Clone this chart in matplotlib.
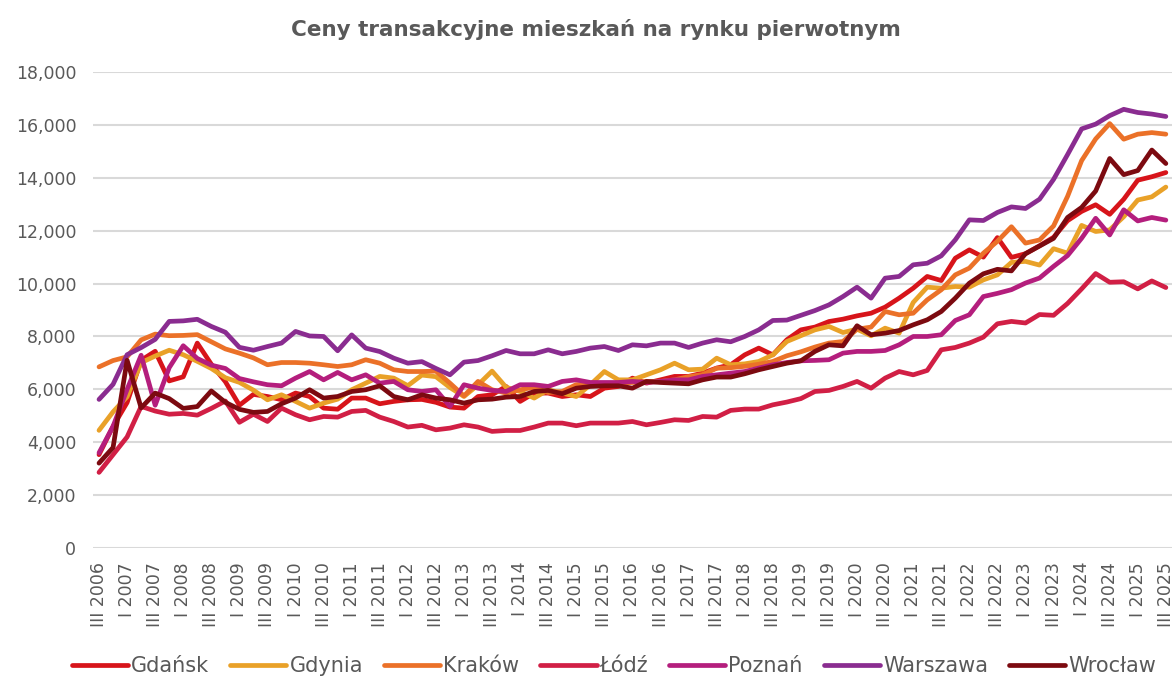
import matplotlib
matplotlib.use("Agg")
import matplotlib.pyplot as plt

# quarterly data III 2006 .. III 2025 (77 quarters)
tick_labels = ["III 2006", "I 2007", "III 2007", "I 2008", "III 2008", "I 2009", "III 2009",
               "I 2010", "III 2010", "I 2011", "III 2011", "I 2012", "III 2012", "I 2013",
               "III 2013", "I 2014", "III 2014", "I 2015", "III 2015", "I 2016", "III 2016",
               "I 2017", "III 2017", "I 2018", "III 2018", "I 2019", "III 2019", "I 2020",
               "III 2020", "I 2021", "III 2021", "I 2022", "III 2022", "I 2023", "III 2023",
               "I 2024", "III 2024", "I 2025", "III 2025"]

gdansk = [3530, 4600, 5500, 7100, 7440, 6320, 6475, 7750, 6950, 6290, 5400, 5810, 5730, 5610,
          5860, 5730, 5290, 5250, 5670, 5670, 5455, 5545, 5605, 5620, 5510, 5330, 5290, 5730,
          5795, 6110, 5545, 5860, 5860, 5730, 5795, 5730, 6045, 6110, 6425, 6235, 6360, 6490,
          6490, 6615, 6805, 6930, 7305, 7560, 7305, 7875, 8250, 8355, 8565, 8655, 8780, 8880,
          9110, 9450, 9825, 10270, 10115, 10960, 11275, 11000, 11740, 10990, 11130, 11430,
          11750, 12380, 12730, 12980, 12620, 13190, 13910, 14040, 14200]
gdynia = [4450, 5150, 5720, 7010, 7260, 7480, 7310, 7060, 6790, 6440, 6265, 5970, 5605, 5795,
          5545, 5290, 5480, 5630, 5985, 6235, 6490, 6425, 6140, 6540, 6480, 6070, 5730, 6170,
          6690, 6080, 5920, 5670, 5985, 5860, 5730, 6175, 6675, 6360, 6360, 6550, 6740, 6990,
          6740, 6765, 7180, 6930, 6965, 7055, 7305, 7810, 8030, 8250, 8380, 8150, 8275, 8025,
          8315, 8125, 9285, 9865, 9825, 9890, 9865, 10140, 10330, 10800, 10840, 10700, 11320,
          11150, 12200, 11970, 12030, 12530, 13160, 13280, 13650]
krakow = [6850, 7090, 7230, 7870, 8090, 8030, 8040, 8070, 7800, 7530, 7370, 7190, 6930, 7015,
          7015, 6990, 6930, 6865, 6930, 7120, 6990, 6740, 6675, 6675, 6690, 6235, 5750, 6300,
          5985, 5860, 5985, 6080, 5880, 5920, 6180, 6180, 6200, 6240, 6260, 6300, 6300, 6360,
          6480, 6560, 6800, 6820, 6870, 6950, 7055, 7270, 7420, 7600, 7750, 7810, 8275, 8355,
          8945, 8820, 8880, 9385, 9765, 10330, 10585, 11150, 11600, 12150, 11530, 11650, 12180,
          13300, 14650, 15470, 16050, 15460, 15650, 15710, 15650]
lodz = [2860, 3530, 4200, 5355, 5180, 5060, 5090, 5025, 5280, 5560, 4755, 5060, 4785, 5290,
        5040, 4850, 4975, 4950, 5165, 5205, 4950, 4785, 4575, 4640, 4470, 4535, 4660, 4575,
        4410, 4445, 4445, 4575, 4725, 4725, 4625, 4725, 4725, 4725, 4785, 4660, 4750, 4850,
        4825, 4975, 4950, 5205, 5255, 5255, 5415, 5520, 5650, 5920, 5960, 6110, 6300, 6045,
        6425, 6675, 6550, 6715, 7495, 7585, 7750, 7975, 8480, 8570, 8510, 8830, 8800, 9250,
        9800, 10380, 10050, 10070, 9800, 10100, 9850]
poznan = [3600, 4600, 6000, 7290, 5400, 6820, 7650, 7170, 6915, 6790, 6410, 6285, 6175, 6135,
          6425, 6675, 6360, 6640, 6360, 6550, 6235, 6300, 5985, 5920, 5985, 5355, 6175, 6045,
          5960, 5920, 6175, 6175, 6110, 6300, 6360, 6260, 6260, 6260, 6300, 6260, 6300, 6360,
          6360, 6490, 6550, 6615, 6675, 6805, 6930, 7015, 7080, 7095, 7120, 7370, 7435, 7435,
          7470, 7685, 8000, 8000, 8065, 8605, 8820, 9510, 9630, 9770, 10020, 10210, 10650,
          11060, 11715, 12470, 11840, 12790, 12370, 12500, 12400]
warszawa = [5620, 6190, 7310, 7580, 7890, 8570, 8590, 8650, 8380, 8160, 7590, 7480, 7620, 7750,
            8190, 8020, 8000, 7460, 8060, 7560, 7430, 7180, 6990, 7050, 6790, 6550, 7030, 7090,
            7270, 7470, 7345, 7345, 7495, 7345, 7435, 7560, 7620, 7470, 7685, 7645, 7750, 7750,
            7585, 7750, 7875, 7800, 8000, 8250, 8605, 8620, 8800, 8980, 9195, 9510, 9865, 9450,
            10205, 10270, 10710, 10770, 11050, 11655, 12410, 12385, 12690, 12900, 12840, 13190,
            13940, 14880, 15850, 16030, 16350, 16590, 16470, 16410, 16320]
wroclaw = [3210, 3800, 7100, 5300, 5860, 5650, 5280, 5350, 5940, 5510, 5245, 5130, 5165, 5455,
           5670, 5985, 5670, 5730, 5920, 5985, 6135, 5730, 5605, 5795, 5670, 5605, 5480, 5605,
           5630, 5705, 5730, 5920, 5960, 5835, 6045, 6110, 6135, 6135, 6045, 6300, 6260, 6235,
           6210, 6360, 6465, 6465, 6590, 6740, 6865, 6990, 7080, 7435, 7685, 7645, 8405, 8065,
           8125, 8225, 8440, 8630, 8945, 9450, 10015, 10370, 10540, 10480, 11130, 11420, 11710,
           12500, 12880, 13500, 14730, 14120, 14275, 15050, 14540]

series = [("Gdańsk", gdansk, "#D7141A"),
          ("Gdynia", gdynia, "#E9A128"),
          ("Kraków", krakow, "#EB7128"),
          ("Łódź", lodz, "#D11F45"),
          ("Poznań", poznan, "#B41E7D"),
          ("Warszawa", warszawa, "#8A2C90"),
          ("Wrocław", wroclaw, "#7C0A10")]

grey = "#595959"
plt.rcParams['font.family'] = ['DejaVu Sans']

fig = plt.figure(figsize=(11.74, 6.77), dpi=100)
ax = fig.add_axes([0.0792, 0.1905, 0.919, 0.7031])

x = list(range(len(gdansk)))
for name, vals, col in series:
    ax.plot(x, vals, color=col, lw=3.4, label=name, solid_joinstyle='round', solid_capstyle='round')

ax.set_xlim(-0.43, 76.43)
ax.set_ylim(0, 18000)
ax.set_yticks(range(0, 18001, 2000))
ax.set_yticklabels([f"{v:,}" for v in range(0, 18001, 2000)])
ax.set_xticks(range(0, 77, 2))
ax.set_xticklabels(tick_labels, rotation=90)
ax.tick_params(axis='both', length=0, colors=grey, labelsize=12.5)
ax.tick_params(axis='y', pad=12)
ax.tick_params(axis='x', pad=10)
ax.grid(axis='y', color="#D9D9D9", lw=1.5)
ax.set_axisbelow(True)
for s in ax.spines.values():
    s.set_visible(False)

fig.suptitle("Ceny transakcyjne mieszkań na rynku pierwotnym", x=0.508, y=0.972,
             fontsize=15.5, fontweight='bold', color=grey)

leg = fig.legend(loc='lower center', bbox_to_anchor=(0.523, -0.026), ncol=7, frameon=False,
                 fontsize=15, handlelength=2.7, handletextpad=0.15, columnspacing=1.0,
                 labelcolor=grey)

fig.savefig("out.png", dpi=100)
